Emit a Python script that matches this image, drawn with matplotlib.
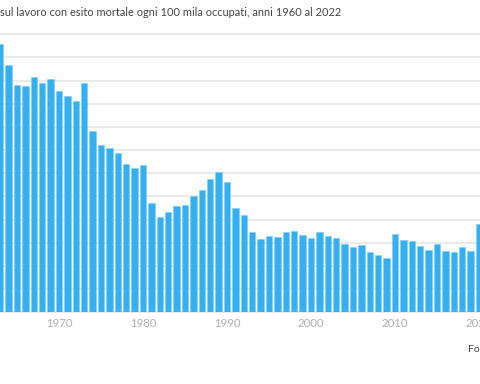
import matplotlib.pyplot as plt

# anni visibili nel ritaglio
anni = list(range(1963, 2021))
tassi = [23.2, 21.35, 19.62, 19.53, 20.29, 19.77, 20.14, 19.07, 18.64, 18.27,
         19.77, 15.67, 14.48, 14.16, 13.73, 12.84, 12.49, 12.73, 9.46, 8.23,
         8.68, 9.2, 9.29, 10.07, 10.59, 11.52, 12.09, 11.26, 8.97, 8.36,
         6.89, 6.35, 6.58, 6.52, 6.93, 7.01, 6.69, 6.43, 6.95, 6.55,
         6.43, 5.89, 5.65, 5.85, 5.22, 4.96, 4.73, 6.72, 6.23, 6.15,
         5.74, 5.42, 5.91, 5.25, 5.19, 5.63, 5.33, 7.65]
tick_anni = [1970, 1980, 1990, 2000, 2010, 2020]

plt.rcParams['font.family'] = ['Lato', 'DejaVu Sans']

fig = plt.figure(figsize=(4.8, 3.84), dpi=100)
ax = fig.add_axes([0, 0.1867, 1, 0.724])

ax.bar(anni, tassi, width=0.74, color='#36aff0', edgecolor='#7fcdf5', linewidth=0.4, zorder=3)

ax.set_xlim(1962.976, 2020.12)
ax.set_ylim(0, 24)
ax.set_yticks(range(0, 25, 2))
ax.yaxis.grid(True, color='#e8e8e8', linewidth=1.3, zorder=0)
ax.set_yticklabels([])
ax.tick_params(axis='y', length=0)

ax.set_xticks(tick_anni)
ax.set_xticklabels([str(a) for a in tick_anni], color='#b0b0b0', fontsize=8.2)
ax.tick_params(axis='x', length=0, pad=4)

for s in ax.spines.values():
    s.set_visible(False)
for gl in ax.get_ygridlines():
    gl.set_clip_on(False)

# titolo e fonte tagliati dal bordo come nel riferimento
fig.text(0, 1 - 12 / 384, "sul lavoro con esito mortale ogni 100 mila occupati, anni 1960 al 2022",
         fontsize=7.9, color='#444444', va='center', ha='left')
fig.text(468 / 480, 1 - 350 / 384, "Fonte: Istat", fontsize=7.5, color='#444444',
         va='center', ha='left')

fig.savefig('out.png', dpi=100)
